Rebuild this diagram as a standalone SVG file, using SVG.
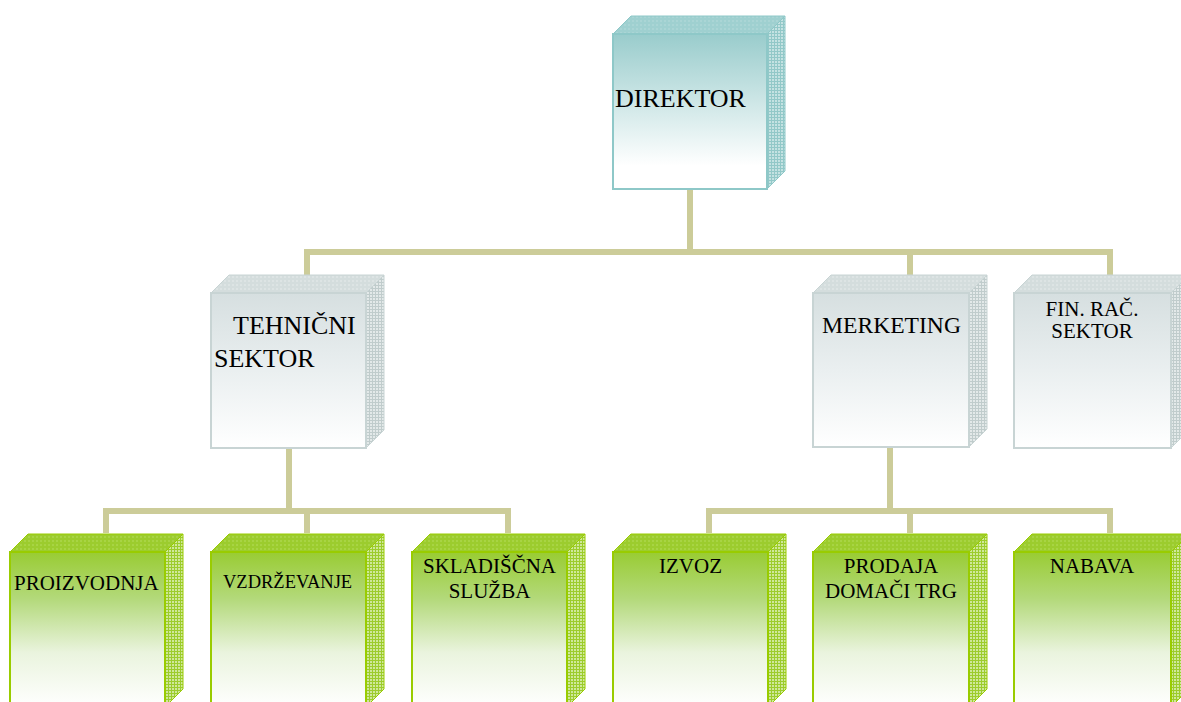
<svg xmlns="http://www.w3.org/2000/svg" width="1181" height="702" viewBox="0 0 1181 702">
<defs>
<linearGradient id="gTeal" x1="0" y1="0" x2="0" y2="1">
<stop offset="0" stop-color="#99cccc"/><stop offset="0.45" stop-color="#cfe7e7"/><stop offset="0.85" stop-color="#ffffff"/><stop offset="1" stop-color="#ffffff"/>
</linearGradient>
<linearGradient id="gGrey" x1="0" y1="0" x2="0" y2="1">
<stop offset="0" stop-color="#d6dfe0"/><stop offset="0.5" stop-color="#eaeff0"/><stop offset="1" stop-color="#ffffff"/>
</linearGradient>
<linearGradient id="gGreen" x1="0" y1="0" x2="0" y2="1">
<stop offset="0" stop-color="#99cc33"/><stop offset="0.3" stop-color="#b3d97a"/><stop offset="0.65" stop-color="#eaf4de"/><stop offset="1" stop-color="#ffffff"/>
</linearGradient>
<pattern id="mTeal" width="6" height="6" patternUnits="userSpaceOnUse">
<rect width="6" height="6" fill="#c4e2e2"/><path d="M0 0.5H6M0.5 0V6M0 3.5H6M3.5 0V6" stroke="#92c8c8" stroke-width="1" fill="none"/>
</pattern>
<pattern id="mGrey" width="6" height="6" patternUnits="userSpaceOnUse">
<rect width="6" height="6" fill="#e3e9e9"/><path d="M0 0.5H6M0.5 0V6M0 3.5H6M3.5 0V6" stroke="#c0cccc" stroke-width="1" fill="none"/>
</pattern>
<pattern id="mGreen" width="6" height="6" patternUnits="userSpaceOnUse">
<rect width="6" height="6" fill="#cfe89a"/><path d="M0 0.5H6M0.5 0V6M0 3.5H6M3.5 0V6" stroke="#9ccc2c" stroke-width="1" fill="none"/>
</pattern>
<pattern id="tTeal" width="4" height="4" patternUnits="userSpaceOnUse">
<rect width="4" height="4" fill="#9fd0d0"/><rect x="0" y="0" width="2" height="2" fill="#aad5d5"/>
</pattern>
<pattern id="tGrey" width="4" height="4" patternUnits="userSpaceOnUse">
<rect width="4" height="4" fill="#d4dddd"/><rect x="0" y="0" width="2" height="2" fill="#dde4e4"/>
</pattern>
<pattern id="tGreen" width="4" height="4" patternUnits="userSpaceOnUse">
<rect width="4" height="4" fill="#9ccc2e"/><rect x="0" y="0" width="2" height="2" fill="#a8d444"/>
</pattern>
</defs>
<style>
.conn{fill:none;stroke:#cccc99;stroke-width:6;stroke-linejoin:miter}
.lbl{font-family:"Liberation Serif","Times New Roman",serif;fill:#000}
.teal .front{fill:url(#gTeal);stroke:#8ec8c8;stroke-width:2}
.teal .top{fill:url(#tTeal);stroke:#8ec8c8;stroke-width:1}
.teal .side{fill:url(#mTeal);stroke:#8ec8c8;stroke-width:1}
.grey .front{fill:url(#gGrey);stroke:#c8d4d4;stroke-width:2}
.grey .top{fill:url(#tGrey);stroke:#c8d4d4;stroke-width:1}
.grey .side{fill:url(#mGrey);stroke:#c8d4d4;stroke-width:1}
.green .front{fill:url(#gGreen);stroke:#99cc00;stroke-width:2}
.green .top{fill:url(#tGreen);stroke:#99cc00;stroke-width:1}
.green .side{fill:url(#mGreen);stroke:#99cc00;stroke-width:1}
</style>
<rect width="1181" height="702" fill="#ffffff"/>
<g id="connectors">
<path class="conn" d="M690 189V252M307 293V252H1110V293M910 252V293"/>
<path class="conn" d="M289 448V511M106 533V511H508V533M307 511V533"/>
<path class="conn" d="M890 447V511M709 533V511H1110V533M910 511V533"/>
</g>
<g id="direktor" class="teal">
<polygon class="top" points="613,34 631,16 785,16 767,34"/>
<polygon class="side" points="767,34 785,16 785,171 767,189"/>
<rect class="front" x="613" y="34" width="154" height="155"/>
<text class="lbl" x="615" y="107" font-size="26">DIREKTOR</text>
</g>
<g id="tehnicni" class="grey">
<polygon class="top" points="211,293 229,275 384,275 366,293"/>
<polygon class="side" points="366,293 384,275 384,430 366,448"/>
<rect class="front" x="211" y="293" width="155" height="155"/>
<text class="lbl" x="233" y="334" font-size="26">TEHNIČNI</text>
<text class="lbl" x="214" y="367" font-size="26">SEKTOR</text>
</g>
<g id="merketing" class="grey">
<polygon class="top" points="813,293 831,275 987,275 969,293"/>
<polygon class="side" points="969,293 987,275 987,429 969,447"/>
<rect class="front" x="813" y="293" width="156" height="154"/>
<text class="lbl" x="822" y="333" font-size="23.6">MERKETING</text>
</g>
<g id="finrac" class="grey">
<polygon class="top" points="1014,293 1032,275 1189,275 1171,293"/>
<polygon class="side" points="1171,293 1189,275 1189,430 1171,448"/>
<rect class="front" x="1014" y="293" width="157" height="155"/>
<text class="lbl" x="1092" y="316" font-size="21" text-anchor="middle">FIN. RAČ.</text>
<text class="lbl" x="1092" y="338" font-size="21" text-anchor="middle">SEKTOR</text>
</g>
<g id="proizvodnja" class="green">
<polygon class="top" points="10,552 28,534 183,534 165,552"/>
<polygon class="side" points="165,552 183,534 183,689 165,707"/>
<rect class="front" x="10" y="552" width="155" height="155"/>
<text class="lbl" x="14" y="590" font-size="21">PROIZVODNJA</text>
</g>
<g id="vzdrzevanje" class="green">
<polygon class="top" points="211,552 229,534 384,534 366,552"/>
<polygon class="side" points="366,552 384,534 384,689 366,707"/>
<rect class="front" x="211" y="552" width="155" height="155"/>
<text class="lbl" x="223" y="588" font-size="18.5">VZDRŽEVANJE</text>
</g>
<g id="skladiscna" class="green">
<polygon class="top" points="412,552 430,534 585,534 567,552"/>
<polygon class="side" points="567,552 585,534 585,689 567,707"/>
<rect class="front" x="412" y="552" width="155" height="155"/>
<text class="lbl" x="489.5" y="573" font-size="21" text-anchor="middle">SKLADIŠČNA</text>
<text class="lbl" x="489.5" y="598" font-size="21" text-anchor="middle">SLUŽBA</text>
</g>
<g id="izvoz" class="green">
<polygon class="top" points="613,552 631,534 786,534 768,552"/>
<polygon class="side" points="768,552 786,534 786,689 768,707"/>
<rect class="front" x="613" y="552" width="155" height="155"/>
<text class="lbl" x="690.5" y="573" font-size="21" text-anchor="middle">IZVOZ</text>
</g>
<g id="prodaja" class="green">
<polygon class="top" points="813,552 831,534 987,534 969,552"/>
<polygon class="side" points="969,552 987,534 987,689 969,707"/>
<rect class="front" x="813" y="552" width="156" height="155"/>
<text class="lbl" x="891" y="573" font-size="21" text-anchor="middle">PRODAJA</text>
<text class="lbl" x="891" y="598" font-size="21" text-anchor="middle">DOMAČI TRG</text>
</g>
<g id="nabava" class="green">
<polygon class="top" points="1014,552 1032,534 1189,534 1171,552"/>
<polygon class="side" points="1171,552 1189,534 1189,689 1171,707"/>
<rect class="front" x="1014" y="552" width="157" height="155"/>
<text class="lbl" x="1092" y="573" font-size="21" text-anchor="middle">NABAVA</text>
</g>
</svg>
